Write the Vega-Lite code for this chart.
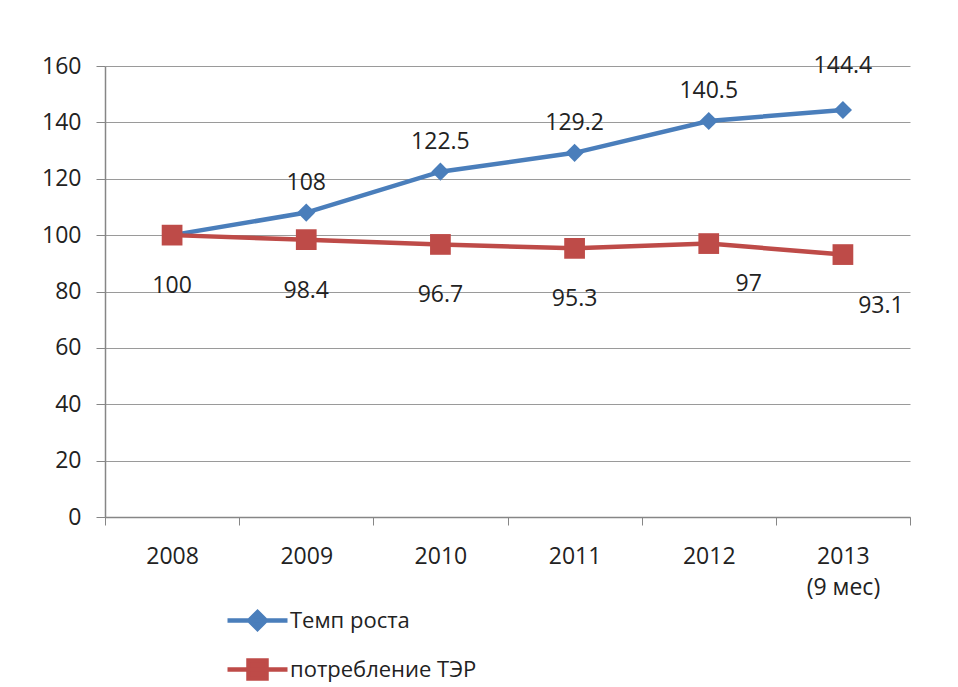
{
  "$schema": "https://vega.github.io/schema/vega-lite/v6.json",
  "autosize": "none",
  "width": 805,
  "height": 451,
  "padding": {"left": 105, "top": 66, "right": 48, "bottom": 170},
  "background": "white",
  "config": {
    "view": {"stroke": null},
    "font": "Open Sans",
    "axis": {"labelFont": "Open Sans", "labelColor": "#222", "labelFontSize": 23}
  },
  "data": {
    "values": [
      {"year": "2008", "series": "Темп роста", "value": 100},
      {"year": "2009", "series": "Темп роста", "value": 108},
      {"year": "2010", "series": "Темп роста", "value": 122.5},
      {"year": "2011", "series": "Темп роста", "value": 129.2},
      {"year": "2012", "series": "Темп роста", "value": 140.5},
      {"year": "2013", "series": "Темп роста", "value": 144.4},
      {"year": "2008", "series": "потребление ТЭР", "value": 100},
      {"year": "2009", "series": "потребление ТЭР", "value": 98.4},
      {"year": "2010", "series": "потребление ТЭР", "value": 96.7},
      {"year": "2011", "series": "потребление ТЭР", "value": 95.3},
      {"year": "2012", "series": "потребление ТЭР", "value": 97},
      {"year": "2013", "series": "потребление ТЭР", "value": 93.1}
    ]
  },
  "encoding": {
    "x": {
      "field": "year", "type": "nominal", "title": null,
      "scale": {"type": "band", "paddingInner": 0, "paddingOuter": 0},
      "axis": {
        "labelAngle": 0, "domainColor": "#868686", "domainWidth": 1.5,
        "tickColor": "#868686", "tickSize": 8, "tickBand": "extent",
        "labelPadding": 20, "labelLineHeight": 31, "grid": false,
        "labelExpr": "datum.value == '2013' ? ['2013', '(9 мес)'] : datum.label"
      }
    },
    "y": {
      "field": "value", "type": "quantitative", "title": null,
      "scale": {"domain": [0, 160], "nice": false},
      "axis": {
        "values": [0, 20, 40, 60, 80, 100, 120, 140, 160],
        "domainColor": "#868686", "domainWidth": 1.5,
        "tickColor": "#868686", "tickSize": 9, "labelPadding": 15,
        "gridColor": "#9a9a9a", "gridWidth": 1
      }
    }
  },
  "layer": [
    {
      "mark": {"type": "line", "strokeWidth": 4.5},
      "encoding": {
        "color": {
          "field": "series", "type": "nominal",
          "scale": {"domain": ["Темп роста", "потребление ТЭР"], "range": ["#4A7EBB", "#BE4B48"]},
          "legend": {
            "orient": "none", "legendX": 130, "legendY": 532, "title": null,
            "symbolSize": 1600, "symbolStrokeWidth": 4.5,
            "labelFont": "Open Sans", "labelFontSize": 22, "labelColor": "#222",
            "labelOffset": 10, "labelLimit": 400, "rowPadding": 9, "padding": 0,
            "encode": {
              "symbols": {
                "update": {
                  "shape": {"signal": "datum.value === 'Темп роста' ? 'M-1.5,0L1.5,0M0,-0.42L0.42,0L0,0.42L-0.42,0Z' : 'M-1.5,0L1.5,0M-0.45,-0.45L0.45,-0.45L0.45,0.45L-0.45,0.45Z'"},
                  "fill": {"signal": "datum.value === 'Темп роста' ? '#4A7EBB' : '#BE4B48'"}
                }
              }
            }
          }
        }
      }
    },
    {
      "transform": [{"filter": "datum.series === 'Темп роста'"}],
      "mark": {"type": "point", "shape": "diamond", "size": 330, "filled": true, "color": "#4A7EBB", "opacity": 1}
    },
    {
      "transform": [{"filter": "datum.series === 'потребление ТЭР'"}],
      "mark": {"type": "point", "shape": "square", "size": 430, "filled": true, "color": "#BE4B48", "opacity": 1}
    },
    {
      "transform": [{"filter": "datum.series === 'Темп роста' && datum.year !== '2008' && datum.year !== '2013'"}],
      "mark": {"type": "text", "dy": -30, "fontSize": 23, "font": "Open Sans", "color": "#222"},
      "encoding": {"text": {"field": "value", "type": "nominal"}}
    },
    {
      "transform": [{"filter": "datum.series === 'Темп роста' && datum.year === '2013'"}],
      "mark": {"type": "text", "dy": -44, "fontSize": 23, "font": "Open Sans", "color": "#222"},
      "encoding": {"text": {"field": "value", "type": "nominal"}}
    },
    {
      "transform": [{"filter": "datum.series === 'потребление ТЭР' && datum.year !== '2012' && datum.year !== '2013'"}],
      "mark": {"type": "text", "dy": 51, "fontSize": 23, "font": "Open Sans", "color": "#222"},
      "encoding": {"text": {"field": "value", "type": "nominal"}}
    },
    {
      "transform": [{"filter": "datum.series === 'потребление ТЭР' && datum.year === '2012'"}],
      "mark": {"type": "text", "dx": 40, "dy": 40, "fontSize": 23, "font": "Open Sans", "color": "#222"},
      "encoding": {"text": {"field": "value", "type": "nominal"}}
    },
    {
      "transform": [{"filter": "datum.series === 'потребление ТЭР' && datum.year === '2013'"}],
      "mark": {"type": "text", "dx": 38, "dy": 51, "fontSize": 23, "font": "Open Sans", "color": "#222"},
      "encoding": {"text": {"field": "value", "type": "nominal"}}
    }
  ]
}
